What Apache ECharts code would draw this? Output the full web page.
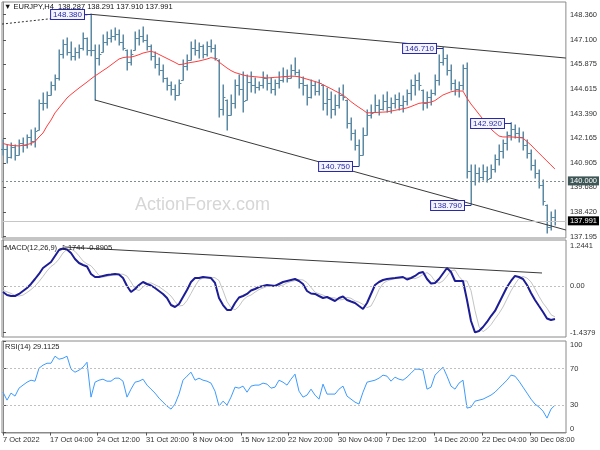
<!DOCTYPE html>
<html>
<head>
<meta charset="utf-8">
<script src="https://cdn.jsdelivr.net/npm/echarts@6/dist/echarts.min.js"></script>
<style>
html,body{margin:0;padding:0;background:#fff}
#chart{width:600px;height:450px}
</style>
</head>
<body>
<div id="chart"></div>
<script>
const highs = [142.06,141.81,141.91,141.81,142.06,142.16,142.31,142.56,142.66,144.07,
  144.42,144.47,144.97,145.33,146.58,147.09,147.19,146.99,146.69,146.84,
  147.44,147.19,148.38,146.84,146.84,147.34,147.49,147.59,147.69,147.59,
  147.34,146.58,146.58,147.49,147.59,147.74,147.34,146.84,146.48,146.18,
  145.83,145.18,144.97,144.82,145.08,146.08,146.33,146.99,147.09,146.94,
  146.84,146.99,147.09,146.84,146.10,144.82,144.07,144.32,145.08,145.33,
  145.48,145.33,145.48,145.18,144.97,145.48,145.33,145.18,145.08,145.48,
  145.68,145.58,145.83,146.18,145.58,145.23,144.82,145.08,144.97,145.08,
  144.82,144.67,144.47,144.32,144.67,144.82,144.07,143.16,142.56,142.06,
  142.66,143.57,143.82,144.32,144.07,144.32,144.47,144.17,144.32,144.42,
  144.27,144.57,145.08,145.33,145.43,144.57,144.47,144.57,145.33,146.33,
  146.71,146.33,145.83,145.08,144.97,145.83,145.93,140.80,140.80,140.65,
  140.80,140.70,140.80,141.30,141.81,142.06,142.46,142.92,142.81,142.66,
  142.46,142.06,141.55,141.05,140.55,140.05,138.79,138.44,138.54];
const lows = [141.30,140.90,141.15,141.05,141.30,141.45,141.65,141.81,141.71,142.56,
  143.57,143.67,144.32,144.57,145.08,146.18,146.33,146.08,146.08,146.18,
  146.58,146.33,146.30,144.07,145.83,146.48,146.84,146.99,147.09,146.84,
  146.58,145.58,145.83,146.58,146.84,146.99,146.58,146.08,145.68,145.33,
  144.97,144.57,144.32,144.07,144.32,145.08,145.58,146.08,146.33,146.18,
  146.18,146.28,146.48,146.08,143.21,143.31,142.56,143.31,143.67,144.32,
  143.47,144.07,144.47,144.42,144.57,144.67,144.57,144.42,144.32,144.67,
  144.97,144.97,145.18,145.33,144.67,144.32,143.82,144.17,144.32,144.32,
  143.57,143.31,143.16,143.31,143.67,144.07,142.66,142.06,141.55,140.75,
  141.30,142.31,143.16,143.47,143.31,143.57,143.47,143.42,143.67,143.57,
  143.47,143.82,144.07,144.32,144.57,143.57,143.67,143.82,144.32,144.82,
  145.83,145.33,144.57,144.32,144.22,144.57,140.15,138.79,139.79,139.94,
  140.05,139.94,140.15,140.45,140.80,141.15,141.55,142.06,142.16,141.96,
  141.55,141.15,140.55,140.15,139.64,138.79,137.38,137.53,137.78];
const closes = [141.6,141.2,141.7,141.3,141.9,141.8,142.2,142.0,142.5,143.9,
  143.9,144.3,144.8,145.2,146.4,146.9,146.5,146.3,146.5,146.7,
  147.2,146.6,146.6,146.2,146.4,147.0,147.2,147.3,147.4,147.0,
  146.7,146.0,146.4,147.2,147.3,147.1,146.8,146.3,145.9,145.6,
  145.2,144.8,144.6,144.3,144.9,145.8,146.1,146.7,146.6,146.8,
  146.4,146.8,146.7,146.2,143.6,144.2,143.3,143.9,144.8,144.6,
  144.0,145.0,144.8,144.7,144.8,145.2,144.9,144.6,144.9,145.1,
  145.3,145.2,145.6,145.5,144.9,144.8,144.2,144.8,144.5,144.9,
  143.9,144.1,143.6,143.8,144.3,144.2,142.9,142.4,141.8,141.3,
  142.3,143.3,143.4,143.8,143.6,144.0,143.7,143.9,144.1,143.8,
  144.0,144.4,144.8,145.1,144.8,143.9,144.2,144.4,145.1,146.0,
  146.2,145.6,144.9,144.6,144.8,145.7,140.5,140.0,140.4,140.2,
  140.5,140.1,140.6,141.1,141.5,141.9,142.3,142.6,142.4,142.2,
  141.8,141.4,140.8,140.4,139.8,139.0,137.7,138.2,137.991];
const ma = [141.88,141.83,141.79,141.77,141.76,141.79,141.83,141.88,141.98,142.21,
  142.41,142.76,143.06,143.42,143.67,143.92,144.17,144.35,144.51,144.67,
  144.82,144.97,145.13,145.28,145.41,145.55,145.68,145.83,145.98,146.13,
  146.20,146.23,146.23,146.28,146.35,146.43,146.48,146.52,146.46,146.36,
  146.26,146.16,146.06,145.96,145.85,145.87,145.92,145.96,145.99,146.03,
  146.08,146.13,146.20,146.16,145.98,145.83,145.68,145.55,145.45,145.39,
  145.33,145.28,145.26,145.24,145.22,145.20,145.18,145.19,145.21,145.22,
  145.24,145.25,145.27,145.26,145.24,145.18,145.12,145.06,145.00,144.94,
  144.84,144.74,144.64,144.53,144.43,144.32,144.17,143.99,143.84,143.70,
  143.57,143.42,143.43,143.44,143.45,143.46,143.47,143.51,143.55,143.59,
  143.63,143.67,143.74,143.82,143.90,143.93,143.94,143.96,144.04,144.18,
  144.32,144.40,144.48,144.52,144.52,144.52,144.17,143.87,143.62,143.36,
  143.11,142.86,142.61,142.43,142.26,142.21,142.21,142.21,142.20,142.18,
  142.16,141.98,141.81,141.60,141.40,141.20,141.00,140.80,140.60];
const macd = [-0.174,-0.267,-0.299,-0.299,-0.236,-0.143,-0.050,0.075,0.230,0.386,
  0.572,0.666,0.759,0.946,1.132,1.179,1.148,1.039,0.852,0.728,
  0.666,0.619,0.386,0.292,0.292,0.324,0.355,0.370,0.386,0.370,
  0.261,0.012,-0.174,-0.081,0.044,0.137,0.075,0.028,-0.050,-0.143,
  -0.236,-0.361,-0.579,-0.641,-0.547,-0.330,-0.112,0.137,0.261,0.261,
  0.292,0.277,0.261,0.106,-0.361,-0.579,-0.734,-0.734,-0.516,-0.345,
  -0.299,-0.236,-0.128,-0.081,-0.019,0.012,0.044,0.028,0.012,0.075,
  0.137,0.168,0.199,0.230,0.168,0.075,-0.143,-0.221,-0.236,-0.299,
  -0.361,-0.330,-0.392,-0.454,-0.361,-0.314,-0.423,-0.470,-0.516,-0.610,
  -0.703,-0.516,-0.236,0.044,0.137,0.199,0.230,0.246,0.261,0.277,
  0.292,0.215,0.261,0.324,0.417,0.448,0.230,0.090,0.106,0.230,
  0.401,0.572,0.448,0.168,0.168,0.168,-0.423,-1.076,-1.430,-1.387,
  -1.263,-1.107,-0.921,-0.765,-0.516,-0.267,-0.019,0.168,0.324,0.292,
  0.230,0.044,-0.205,-0.423,-0.610,-0.796,-0.998,-1.045,-1.014];
const signal = [-0.12,-0.17,-0.22,-0.28,-0.30,-0.27,-0.19,-0.10,0.01,0.15,
  0.31,0.48,0.62,0.71,0.85,1.04,1.15,1.16,1.09,0.95,
  0.79,0.70,0.64,0.50,0.34,0.29,0.31,0.34,0.36,0.38,
  0.38,0.32,0.14,-0.08,-0.13,-0.02,0.09,0.11,0.05,-0.01,
  -0.10,-0.19,-0.30,-0.47,-0.61,-0.59,-0.44,-0.22,0.01,0.20,
  0.26,0.28,0.28,0.27,0.18,-0.13,-0.47,-0.66,-0.73,-0.62,
  -0.43,-0.32,-0.27,-0.18,-0.10,-0.05,0.00,0.03,0.04,0.02,
  0.04,0.11,0.15,0.18,0.21,0.20,0.12,-0.03,-0.18,-0.23,
  -0.27,-0.33,-0.35,-0.36,-0.42,-0.41,-0.34,-0.37,-0.45,-0.49,
  -0.56,-0.66,-0.61,-0.38,-0.10,0.09,0.17,0.21,0.24,0.25,
  0.27,0.28,0.25,0.24,0.29,0.37,0.43,0.34,0.16,0.10,
  0.17,0.32,0.49,0.51,0.31,0.17,0.17,-0.13,-0.75,-1.25,
  -1.41,-1.32,-1.19,-1.01,-0.84,-0.64,-0.39,-0.14,0.07,0.25,
  0.31,0.26,0.14,-0.08,-0.31,-0.52,-0.68,-0.88,-0.95];
const rsi = [44.1,35.4,43.1,39.8,48.5,51.8,55.0,57.2,56.1,70.3,
  73.6,75.7,75.7,83.4,80.1,81.2,83.4,69.2,65.9,68.1,
  71.4,76.8,38.7,55.0,57.2,58.3,56.1,56.1,59.4,59.4,
  56.1,38.7,47.4,55.0,56.1,58.3,51.8,47.4,43.1,37.6,
  33.2,28.9,25.6,31.1,42.0,57.2,61.6,65.9,57.2,59.4,
  57.2,56.1,54.0,45.2,28.9,34.3,30.0,38.7,49.6,48.5,
  50.7,44.1,50.7,51.8,51.8,54.0,52.9,48.5,49.6,57.2,
  55.0,51.8,58.3,63.8,45.2,38.7,40.9,47.4,40.9,36.5,
  52.9,42.0,42.0,42.0,47.4,50.7,39.8,36.5,33.2,31.1,
  44.1,55.0,56.1,57.2,59.4,62.7,61.6,56.1,60.5,58.3,
  57.2,60.5,64.8,69.2,69.2,68.1,47.4,49.6,62.7,67.0,
  71.4,61.6,50.7,47.4,54.0,57.2,26.7,27.8,34.3,35.4,
  36.5,38.7,40.9,44.1,48.5,52.9,57.2,62.7,61.6,56.1,
  49.6,43.1,36.5,31.1,27.8,23.4,15.8,25.6,29.9];

// swing tags: bar index and price
const tagBar = [22, 110, 89, 127, 117];
const tagPrice = [148.380, 146.710, 140.750, 142.920, 138.790];

// drawn lines, [bar, value] end points
const upperLine = [[22, 148.38], [140.75, 146.18]];
const lowerLine = [[23, 144.07], [140.75, 137.53]];
const oldLine = [[-0.25, 147.89], [22, 148.38]];
const macdLine = [[15.5, 1.225], [134.75, 0.417]];

const levelMark = 140.000;
const lastPrice = 137.991;

const priceTicks = [137.195, 138.420, 139.680, 140.905, 142.165, 143.390, 144.615, 145.875, 147.100, 148.360];
const macdTicks = [-1.4379, 0, 1.2441];
const macdTickText = ['-1.4379', '0.00', '1.2441'];
const rsiTicks = [0, 30, 70, 100];
const timeTickAt = [0, 11.75, 23.5, 35.75, 47.5, 59.5, 71.25, 83.75, 95.75, 107.75, 119.75, 131.75];
const timeLabels = ['7 Oct 2022', '17 Oct 04:00', '24 Oct 12:00', '31 Oct 20:00', '8 Nov 04:00', '15 Nov 12:00',
  '22 Nov 20:00', '30 Nov 04:00', '7 Dec 12:00', '14 Dec 20:00', '22 Dec 04:00', '30 Dec 08:00'];

const titleText = 'EURJPY,H4  138.287 138.291 137.910 137.991';
const macdText = 'MACD(12,26,9) -1.1744 -0.8905';
const rsiText = 'RSI(14) 29.1125';

const FONT = 'Liberation Sans';
const barColor = '#5b89a3';
const tagColor = '#2a2aa8';
const frame = '#8a8a8a';

let bars = closes.map((c, i) => {
  let o = i === 0 ? c : closes[i - 1];
  o = Math.min(Math.max(o, lows[i]), highs[i]);
  return [i, o, highs[i], lows[i], c];
});
let tags = tagBar.map((b, k) => [b, tagPrice[k]]);

function renderBar(params, api) {
  let i = api.value(0);
  let hi = api.coord([i, api.value(2)]);
  let lo = api.coord([i, api.value(3)]);
  let op = api.coord([i, api.value(1)]);
  let cl = api.coord([i, api.value(4)]);
  let x = Math.round(hi[0]) + 0.25;
  let yo = Math.round(op[1]) + 0.5, yc = Math.round(cl[1]) + 0.5;
  return {type: 'group', children: [
    {type: 'line', shape: {x1: x, y1: hi[1] - 0.5, x2: x, y2: lo[1] + 0.5},
      style: {stroke: barColor, lineWidth: 1.5}},
    {type: 'line', shape: {x1: x - 2.2, y1: yo, x2: x, y2: yo}, style: {stroke: barColor, lineWidth: 1}},
    {type: 'line', shape: {x1: x, y1: yc, x2: x + 2.2, y2: yc}, style: {stroke: barColor, lineWidth: 1}}
  ]};
}

function renderTag(params, api) {
  let p = api.coord([api.value(0), api.value(1)]);
  let x = Math.round(p[0]), y = Math.round(p[1]) + 0.5;
  return {type: 'group', children: [
    {type: 'line', shape: {x1: x - 7, y1: y, x2: x, y2: y}, style: {stroke: tagColor, lineWidth: 1}},
    {type: 'text', x: x - 7, y: y, style: {
      text: tagPrice[params.dataIndex].toFixed(3), align: 'right', verticalAlign: 'middle',
      font: '8px "' + FONT + '"', fill: tagColor, backgroundColor: '#f4f4ff',
      borderColor: tagColor, borderWidth: 1, padding: [1, 2, 0, 2]
    }}
  ]};
}

function seg(data, color, type, xi, yi) {
  return {type: 'line', data: data, xAxisIndex: xi, yAxisIndex: yi, symbol: 'none', silent: true,
    lineStyle: {color: color, width: 1, type: type}, z: 3};
}

const axisText = {color: '#333', fontSize: 7.5, fontFamily: FONT};
const xCommon = {type: 'value', min: -0.25, max: 140.75, splitLine: {show: false}};
const yCommon = {type: 'value', position: 'right', splitLine: {show: false},
  axisLine: {show: true, lineStyle: {color: frame}}};

const chart = echarts.init(document.getElementById('chart'));
chart.setOption({
  animation: false,
  backgroundColor: '#fff',
  grid: [
    {left: 2, top: 2, width: 564, height: 236, show: true, borderColor: frame},
    {left: 2, top: 240, width: 564, height: 97, show: true, borderColor: frame},
    {left: 2, top: 341, width: 564, height: 92, show: true, borderColor: frame}
  ],
  xAxis: [
    Object.assign({gridIndex: 0, show: false}, xCommon),
    Object.assign({gridIndex: 1, show: false}, xCommon),
    Object.assign({gridIndex: 2,
      axisLine: {show: true, lineStyle: {color: frame}},
      axisTick: {show: true, length: 3, lineStyle: {color: '#555'}, customValues: timeTickAt},
      axisLabel: Object.assign({customValues: timeTickAt, align: 'left', margin: 3, hideOverlap: false,
        formatter: v => timeLabels[timeTickAt.indexOf(v)]}, axisText)
    }, xCommon)
  ],
  yAxis: [
    Object.assign({gridIndex: 0, min: 137.128, max: 148.999}, yCommon, {
      axisTick: {show: true, length: 3, lineStyle: {color: '#555'}, customValues: priceTicks},
      axisLabel: Object.assign({customValues: priceTicks, margin: 4, showMinLabel: true, showMaxLabel: true,
        formatter: v => v.toFixed(3)}, axisText)
    }),
    Object.assign({gridIndex: 1, min: -1.574, max: 1.443}, yCommon, {
      axisTick: {show: true, length: 3, lineStyle: {color: '#555'}, customValues: macdTicks},
      axisLabel: Object.assign({customValues: macdTicks, margin: 4,
        formatter: v => macdTickText[macdTicks.indexOf(v)]}, axisText)
    }),
    Object.assign({gridIndex: 2, min: -0.5, max: 100}, yCommon, {
      axisTick: {show: true, length: 3, lineStyle: {color: '#555'}, customValues: rsiTicks},
      axisLabel: Object.assign({customValues: rsiTicks, margin: 4, showMinLabel: true, showMaxLabel: true,
        verticalAlignMinLabel: 'bottom', verticalAlignMaxLabel: 'top',
        formatter: v => String(v)}, axisText)
    })
  ],
  graphic: [
    {type: 'text', left: 135, top: 196, z: 0, silent: true,
      style: {text: 'ActionForex.com', fill: '#d6d6d6', font: '18px "' + FONT + '"'}},
    {type: 'text', left: 4, top: 3, z: 10,
      style: {text: '\u25BC ' + titleText, fill: '#111', font: '7.5px "' + FONT + '"'}},
    {type: 'text', left: 5, top: 244, z: 10,
      style: {text: macdText, fill: '#222', font: '7.5px "' + FONT + '"'}},
    {type: 'text', left: 5, top: 343, z: 10,
      style: {text: rsiText, fill: '#222', font: '7.5px "' + FONT + '"'}}
  ],
  series: [
    {type: 'custom', name: 'price', xAxisIndex: 0, yAxisIndex: 0, data: bars,
      renderItem: renderBar, silent: true, z: 2,
      markLine: {symbol: 'none', silent: true, animation: false, precision: 3, data: [
        {yAxis: levelMark, lineStyle: {color: '#7c8e8e', type: [2, 2], width: 1},
          label: {show: true, position: 'end', distance: 2, formatter: () => levelMark.toFixed(3),
            color: '#fff', backgroundColor: '#3e5656', padding: [1, 2, 0, 2], fontSize: 7.5, fontFamily: FONT}},
        {yAxis: lastPrice, lineStyle: {color: '#c6c6c6', type: 'solid', width: 1},
          label: {show: true, position: 'end', distance: 2, formatter: () => lastPrice.toFixed(3),
            color: '#fff', backgroundColor: '#000', padding: [1, 2, 0, 2], fontSize: 7.5, fontFamily: FONT}}
      ]}},
    {type: 'line', name: 'ma', xAxisIndex: 0, yAxisIndex: 0, data: ma.map((v, i) => [i, v]),
      symbol: 'none', silent: true, lineStyle: {color: '#ff3c3c', width: 1}, z: 3},
    seg(oldLine, '#333', [2, 2], 0, 0),
    seg(upperLine, '#3a3a3a', 'solid', 0, 0),
    seg(lowerLine, '#3a3a3a', 'solid', 0, 0),
    {type: 'custom', name: 'tags', xAxisIndex: 0, yAxisIndex: 0, data: tags, renderItem: renderTag,
      silent: true, z: 5},
    {type: 'line', name: 'signal', xAxisIndex: 1, yAxisIndex: 1, data: signal.map((v, i) => [i, v]),
      symbol: 'none', silent: true, lineStyle: {color: '#c4c4c4', width: 1}, z: 2,
      markLine: {symbol: 'none', silent: true, label: {show: false},
        lineStyle: {color: '#c0c0c0', type: [2, 2], width: 1}, data: [{yAxis: 0}]}},
    {type: 'line', name: 'macd', xAxisIndex: 1, yAxisIndex: 1, data: macd.map((v, i) => [i, v]),
      symbol: 'none', silent: true, lineStyle: {color: '#1c1c96', width: 2}, z: 3},
    seg(macdLine, '#3a3a3a', 'solid', 1, 1),
    {type: 'line', name: 'rsi', xAxisIndex: 2, yAxisIndex: 2, data: rsi.map((v, i) => [i, v]),
      symbol: 'none', silent: true, lineStyle: {color: '#3d9bff', width: 1}, z: 3,
      markLine: {symbol: 'none', silent: true, label: {show: false},
        lineStyle: {color: '#c0c0c0', type: [2, 2], width: 1}, data: [{yAxis: 30}, {yAxis: 70}]}}
  ]
});
</script>
</body>
</html>
